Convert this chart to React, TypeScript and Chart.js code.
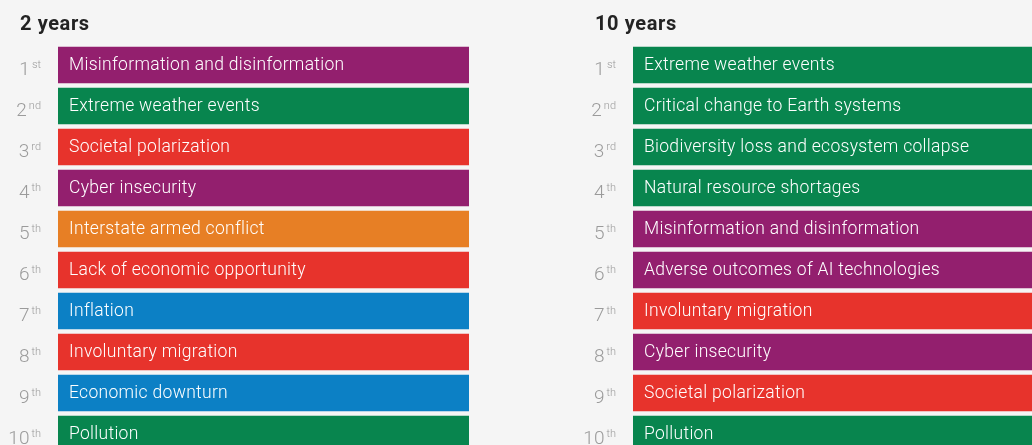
import React, { useEffect, useRef } from "react";
import { Chart, registerables } from "chart.js";

Chart.register(...registerables);

// ---------- data ----------
const TITLE_2Y = "2 years";
const TITLE_10Y = "10 years";

const rankNumbers = ["1", "2", "3", "4", "5", "6", "7", "8", "9", "10"];
const rankSuffixes = ["st", "nd", "rd", "th", "th", "th", "th", "th", "th", "th"];

const risks2y = [
  "Misinformation and disinformation",
  "Extreme weather events",
  "Societal polarization",
  "Cyber insecurity",
  "Interstate armed conflict",
  "Lack of economic opportunity",
  "Inflation",
  "Involuntary migration",
  "Economic downturn",
  "Pollution",
];
const riskTypes2y = [
  "technological",
  "environmental",
  "societal",
  "technological",
  "geopolitical",
  "societal",
  "economic",
  "societal",
  "economic",
  "environmental",
];
const barLength2y = [1, 1, 1, 1, 1, 1, 1, 1, 1, 1];

const risks10y = [
  "Extreme weather events",
  "Critical change to Earth systems",
  "Biodiversity loss and ecosystem collapse",
  "Natural resource shortages",
  "Misinformation and disinformation",
  "Adverse outcomes of AI technologies",
  "Involuntary migration",
  "Cyber insecurity",
  "Societal polarization",
  "Pollution",
];
const riskTypes10y = [
  "environmental",
  "environmental",
  "environmental",
  "environmental",
  "technological",
  "technological",
  "societal",
  "technological",
  "societal",
  "environmental",
];
const barLength10y = [1, 1, 1, 1, 1, 1, 1, 1, 1, 1];

const TYPE_COLORS: Record<string, string> = {
  economic: "#0c80c5",
  environmental: "#08854e",
  geopolitical: "#e77f25",
  societal: "#e7332c",
  technological: "#931f6e",
};

// ---------- style ----------
const BG = "#f5f5f5";
const FONT = "Roboto, 'Liberation Sans', Arial, sans-serif";
const CANVAS_W = 480;
const CANVAS_H = 470;

function makePlugin(title: string) {
  return {
    id: "rankLabels",
    afterDatasetsDraw(chart: any) {
      const ctx = chart.ctx;
      const yScale = chart.scales.y;
      const meta = chart.getDatasetMeta(0);
      const names: string[] = chart.data.labels;
      const area = chart.chartArea;
      ctx.save();
      // panel title
      ctx.fillStyle = "#232323";
      ctx.font = `bold 20px ${FONT}`;
      (ctx as any).letterSpacing = "0.6px";
      ctx.textAlign = "left";
      ctx.textBaseline = "alphabetic";
      ctx.fillText(title, area.left - 38, 29.5);
      // text inside the bars
      ctx.fillStyle = "#ffffff";
      ctx.font = `300 17.5px ${FONT}`;
      (ctx as any).letterSpacing = "0.3px";
      ctx.textBaseline = "middle";
      meta.data.forEach((bar: any, i: number) => {
        const left = Math.min(bar.base, bar.x);
        ctx.fillText(names[i], left + 11, bar.y + 0.5);
      });
      // rank labels with superscripts
      (ctx as any).letterSpacing = "0px";
      ctx.fillStyle = "#9b9b9b";
      ctx.textBaseline = "alphabetic";
      ctx.textAlign = "right";
      const right = area.left - 17;
      names.forEach((_, i) => {
        const y = yScale.getPixelForValue(i);
        ctx.font = `300 11px ${FONT}`;
        const supW = ctx.measureText(rankSuffixes[i]).width;
        ctx.fillText(rankSuffixes[i], right, y + 3);
        ctx.font = `300 19px ${FONT}`;
        ctx.fillText(rankNumbers[i], right - supW - 2, y + 9.5);
      });
      ctx.restore();
    },
  };
}

function makeConfig(title: string, labels: string[], values: number[], types: string[]): any {
  return {
    type: "bar",
    data: {
      labels,
      datasets: [
        {
          data: values,
          backgroundColor: types.map((t) => TYPE_COLORS[t]),
          borderWidth: 0,
          barThickness: 36,
        },
      ],
    },
    options: {
      indexAxis: "y",
      responsive: false,
      animation: false,
      events: [],
      layout: { padding: { left: 20, right: 11, top: 44.5, bottom: CANVAS_H - 454.5 } },
      scales: {
        x: { display: false, min: 0, max: 1 },
        y: {
          display: true,
          ticks: { display: false },
          grid: { display: false },
          border: { display: false },
          afterFit: (s: any) => {
            s.width = 38;
          },
        },
      },
      plugins: {
        legend: { display: false },
        tooltip: { enabled: false },
        title: { display: false },
      },
    },
    plugins: [makePlugin(title)],
  };
}

function Panel(props: { left: number; title: string; labels: string[]; values: number[]; types: string[] }) {
  const ref = useRef<HTMLCanvasElement | null>(null);
  useEffect(() => {
    if (!ref.current) return;
    const chart = new Chart(ref.current, makeConfig(props.title, props.labels, props.values, props.types));
    return () => chart.destroy();
  }, []);
  return (
    <canvas
      ref={ref}
      width={CANVAS_W}
      height={CANVAS_H}
      style={{ position: "absolute", left: props.left, top: 0, width: CANVAS_W, height: CANVAS_H }}
    />
  );
}

export default function App() {
  return (
    <div
      style={{
        position: "fixed",
        left: 0,
        top: 0,
        width: 1032,
        height: 445,
        background: BG,
        overflow: "hidden",
      }}
    >
      <Panel left={0} title={TITLE_2Y} labels={risks2y} values={barLength2y} types={riskTypes2y} />
      <Panel left={575} title={TITLE_10Y} labels={risks10y} values={barLength10y} types={riskTypes10y} />
    </div>
  );
}
